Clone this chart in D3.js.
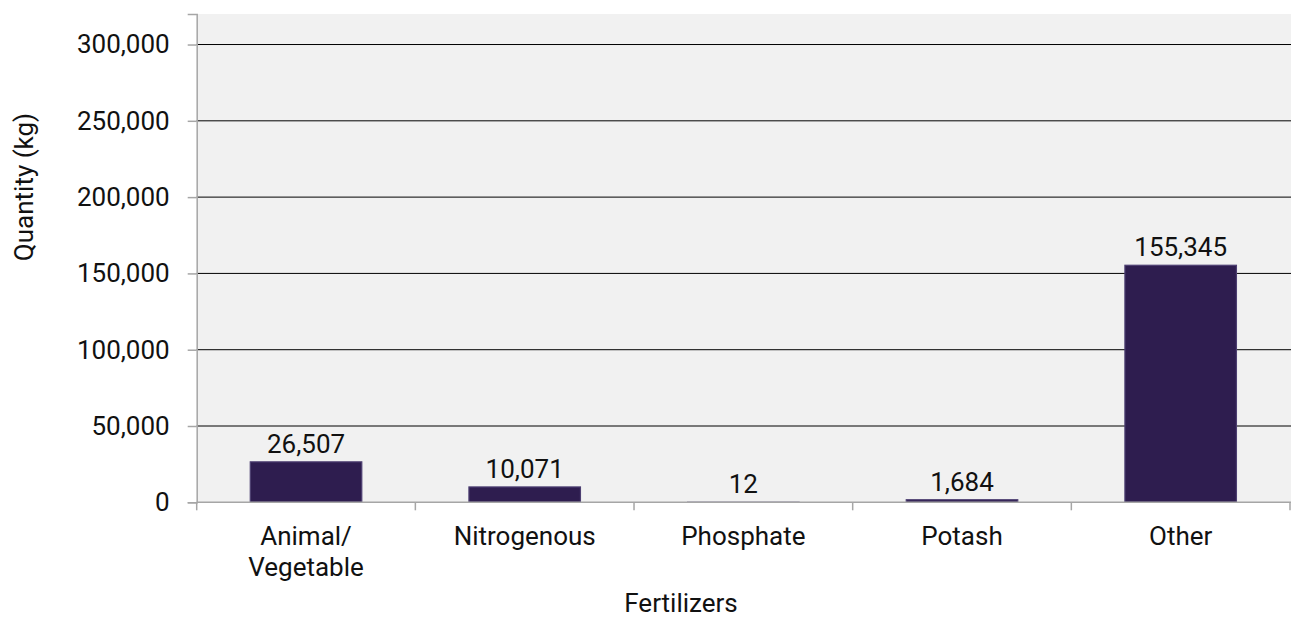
<!DOCTYPE html>
<html>
<head>
<meta charset="utf-8">
<script src="https://cdn.jsdelivr.net/npm/d3@7"></script>
<style>
  html, body { margin: 0; padding: 0; background: #fff; }
  svg { display: block; font-family: Roboto, "Noto Sans", sans-serif; }
</style>
</head>
<body>
<svg id="chart" width="1291" height="619"></svg>
<script>
const categories = ["Animal/Vegetable", "Nitrogenous", "Phosphate", "Potash", "Other"];
const values = [26507, 10071, 12, 1684, 155345];
const valueLabels = ["26,507", "10,071", "12", "1,684", "155,345"];
const yTickValues = [0, 50000, 100000, 150000, 200000, 250000, 300000];
const yMax = 320000;
const xTitle = "Fertilizers";
const yTitle = "Quantity (kg)";

(function () {
const svg = d3.select("#chart");
const pLeft = 196.7, pRight = 1290, pTop = 14, pBottom = 502.3;

const x = d3.scaleBand().domain(categories).range([pLeft, pRight])
  .paddingInner(0.49).paddingOuter(0.245);
const y = d3.scaleLinear().domain([0, yMax]).range([pBottom, pTop]);

// plot background
svg.append("rect").attr("x", pLeft).attr("y", pTop)
  .attr("width", 1291 - pLeft).attr("height", pBottom - pTop).attr("fill", "#f1f1f1");

// gridlines
svg.append("g").selectAll("line").data(yTickValues.filter(d => d > 0)).join("line")
  .attr("x1", pLeft).attr("x2", 1291)
  .attr("y1", d => y(d)).attr("y2", d => y(d))
  .attr("stroke", "#000").attr("stroke-width", 1);

// bars
const data = categories.map((c, i) => ({c, v: values[i], label: valueLabels[i]}));
svg.append("g").selectAll("rect").data(data).join("rect")
  .attr("x", d => x(d.c)).attr("width", x.bandwidth())
  .attr("y", d => y(d.v)).attr("height", d => Math.max(0, y(0) - y(d.v)))
  .attr("fill", "#2e1d4f").attr("stroke", "#4d3f72").attr("stroke-width", 1.2);

// value labels
svg.append("g").selectAll("text").data(data).join("text")
  .attr("x", d => x(d.c) + x.bandwidth() / 2)
  .attr("y", d => y(d.v) - 9)
  .attr("text-anchor", "middle").attr("font-size", 26).attr("fill", "#111")
  .text(d => d.label);

// y axis
const yAxis = d3.axisLeft(y).tickValues(yTickValues)
  .tickFormat(d3.format(",")).tickSize(9).tickPadding(18);
const gy = svg.append("g").attr("transform", `translate(${pLeft},0)`).call(yAxis);
gy.select(".domain").attr("stroke", "#a6a6a6").attr("stroke-width", 1.5);
gy.selectAll(".tick line").attr("stroke", "#a6a6a6").attr("stroke-width", 1.5);
gy.selectAll(".tick text").attr("font-size", 26).attr("fill", "#111")
  .attr("font-family", "Roboto");

// x axis
const step = x.step();
const boundaries = d3.range(categories.length + 1).map(i => pLeft + i * step);
svg.append("line").attr("x1", pLeft).attr("x2", 1291)
  .attr("y1", pBottom).attr("y2", pBottom)
  .attr("stroke", "#a6a6a6").attr("stroke-width", 1.5);
svg.append("g").selectAll("line").data(boundaries).join("line")
  .attr("x1", d => d).attr("x2", d => d)
  .attr("y1", pBottom).attr("y2", pBottom + 8)
  .attr("stroke", "#a6a6a6").attr("stroke-width", 1.5);

const catText = svg.append("g").selectAll("text").data(categories).join("text")
  .attr("x", d => x(d) + x.bandwidth() / 2)
  .attr("y", 545)
  .attr("text-anchor", "middle").attr("font-size", 26).attr("fill", "#111");
catText.each(function(d) {
  const parts = d.includes("/") ? [d.slice(0, d.indexOf("/") + 1), d.slice(d.indexOf("/") + 1)] : [d];
  const t = d3.select(this);
  parts.forEach((p, i) => {
    t.append("tspan").attr("x", x(d) + x.bandwidth() / 2)
      .attr("dy", i === 0 ? 0 : 31).text(p);
  });
});

// titles
svg.append("text").attr("x", 681).attr("y", 612)
  .attr("text-anchor", "middle").attr("font-size", 26).attr("fill", "#111")
  .text(xTitle);
svg.append("text").attr("transform", "translate(33,187) rotate(-90)")
  .attr("text-anchor", "middle").attr("font-size", 26).attr("fill", "#111")
  .text(yTitle);
})();
</script>
</body>
</html>
